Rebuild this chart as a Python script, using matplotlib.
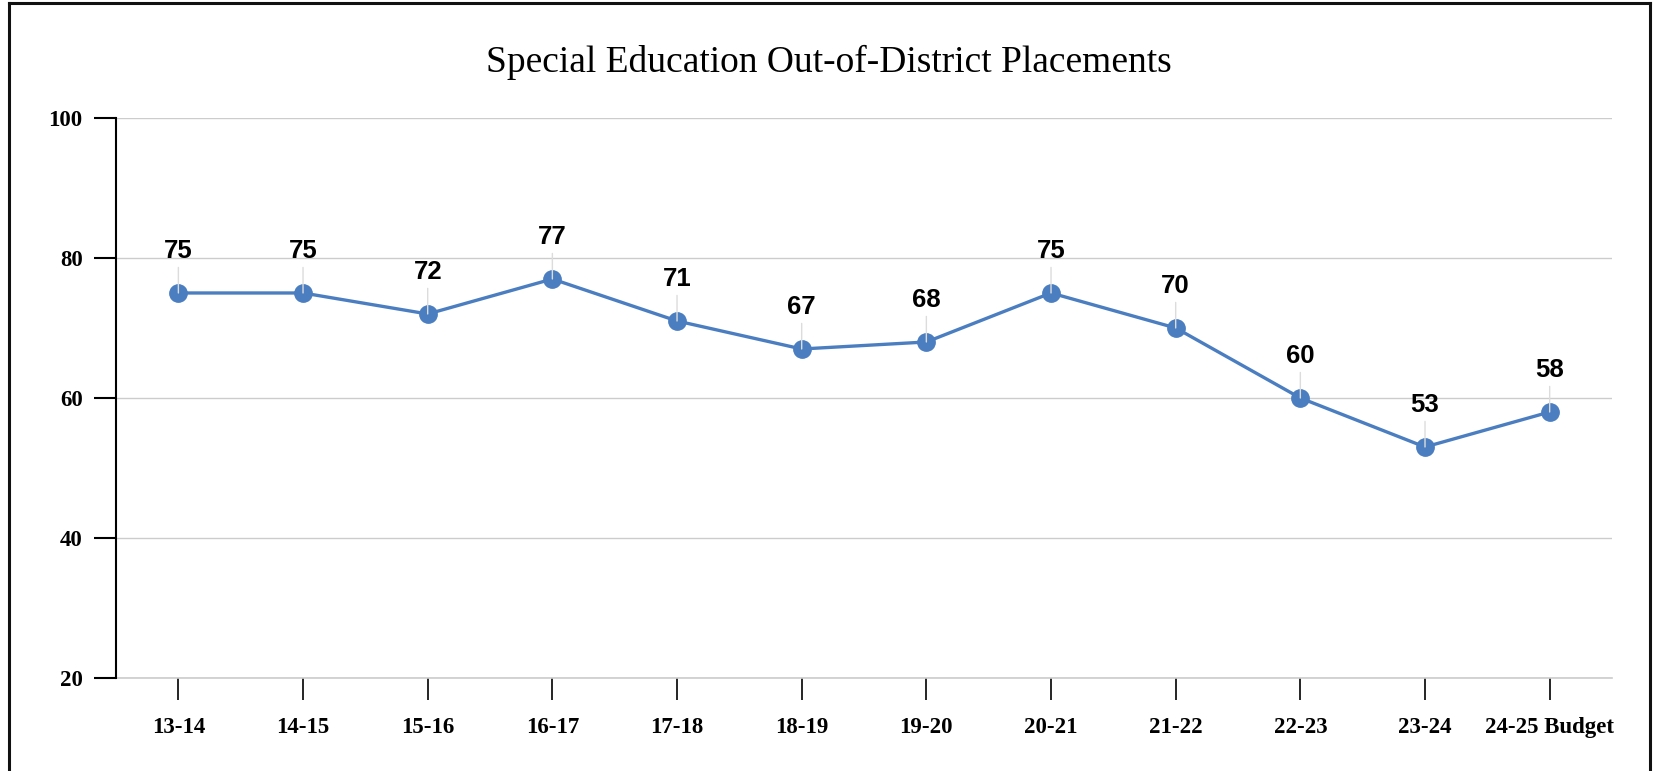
import matplotlib.pyplot as plt
from matplotlib.lines import Line2D

seasons = ['13-14', '14-15', '15-16', '16-17', '17-18', '18-19',
           '19-20', '20-21', '21-22', '22-23', '23-24', '24-25 Budget']
placements = [75, 75, 72, 77, 71, 67, 68, 75, 70, 60, 53, 58]
y_ticks = [20, 40, 60, 80, 100]

line_color = '#4b7ec0'

fig = plt.figure(figsize=(16.53, 7.71), dpi=100)
ax = fig.add_axes([0.0702, 0.1206, 0.9050, 0.7264])

x = list(range(len(seasons)))
ax.plot(x, placements, color=line_color, lw=2.4, marker='o', markersize=12.5,
        zorder=3, clip_on=False)

# value labels with thin leader lines
for xi, v in zip(x, placements):
    ax.annotate(str(v), xy=(xi, v), xytext=(0, 25), textcoords='offset points',
                ha='center', va='baseline', fontsize=18.5, fontweight='bold',
                family='Liberation Sans', color='black', zorder=4,
                arrowprops=dict(arrowstyle='-', color='#dcdcdc', lw=1,
                                shrinkA=1, shrinkB=0))

ax.set_xlim(-0.5, len(seasons) - 0.5)
ax.set_ylim(20, 100)
ax.set_yticks(y_ticks)
ax.set_xticks(x)
ax.set_xticklabels(seasons)

for lab in ax.get_xticklabels() + ax.get_yticklabels():
    lab.set_family('Liberation Serif')
    lab.set_fontweight('bold')
    lab.set_fontsize(16.5)

ax.grid(axis='y', color='#cccccc', lw=1)
ax.axhline(20, color='#cccccc', lw=1.2, clip_on=False, zorder=1)
ax.set_axisbelow(True)
for s in ['top', 'right', 'bottom']:
    ax.spines[s].set_visible(False)
ax.spines['left'].set_linewidth(1.5)
ax.tick_params(axis='y', length=16, width=1.5, pad=8, color='black')
ax.tick_params(axis='x', length=16, width=1.2, pad=12, color='black')

fig.text(0.5015, 0.919, 'Special Education Out-of-District Placements',
         ha='center', va='center', fontsize=27, family='Liberation Serif')

# frame around the chart (open at the bottom)
bx0, bx1, by1 = 9 / 1653, 1650 / 1653, 1 - 3 / 771
for xs, ys in [([bx0, bx0], [0, by1]), ([bx0, bx1], [by1, by1]),
               ([bx1, bx1], [by1, 0])]:
    fig.add_artist(Line2D(xs, ys, color='#111111', lw=2.2,
                          transform=fig.transFigure))

fig.savefig('out.png', dpi=100, facecolor='white')
